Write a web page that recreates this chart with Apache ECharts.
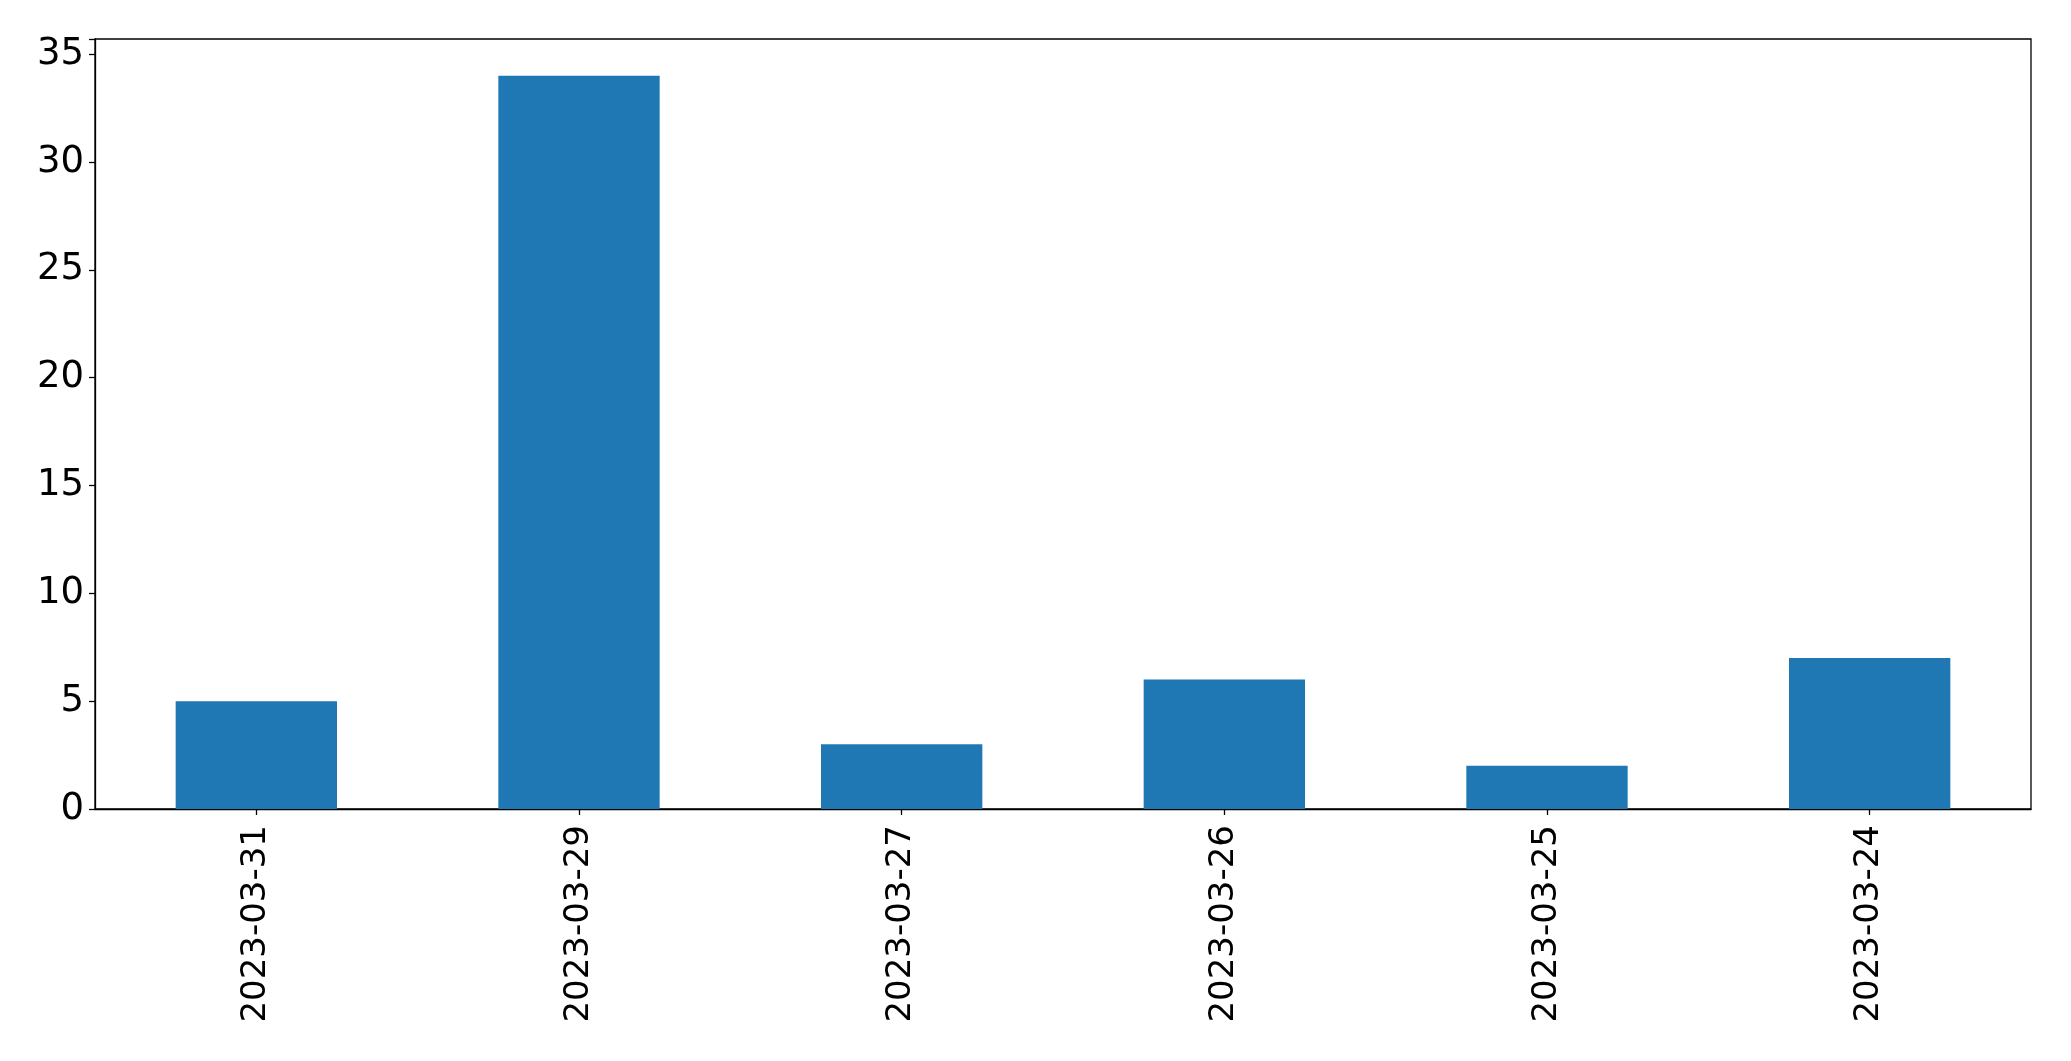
<!DOCTYPE html>
<html>
<head>
<meta charset="utf-8">
<script src="https://cdn.jsdelivr.net/npm/echarts@6/dist/echarts.min.js"></script>
<style>
html,body{margin:0;padding:0;background:#fff;}
#chart{width:2071px;height:1061px;}
</style>
</head>
<body>
<div id="chart"></div>
<script>
const categories = ['2023-03-31','2023-03-29','2023-03-27','2023-03-26','2023-03-25','2023-03-24'];
const values = [5, 34, 3, 6, 2, 7];
const yTicks = [0, 5, 10, 15, 20, 25, 30, 35];

const chart = echarts.init(document.getElementById('chart'), null, {renderer:'canvas'});
const font = 'DejaVu Sans';
chart.setOption({
  animation: false,
  backgroundColor: '#fff',
  grid: {left: 95, top: 39, right: 40, bottom: 252, show: true, borderColor: '#000', borderWidth: 1.3, containLabel: false},
  xAxis: {
    type: 'category',
    data: categories,
    boundaryGap: true,
    axisLine: {show: true, lineStyle: {color: '#000', width: 1.3}},
    axisTick: {show: true, alignWithLabel: true, length: 6, lineStyle: {color: '#000', width: 1.3}},
    axisLabel: {rotate: 90, fontFamily: font, fontSize: 34, color: '#000', margin: 16, interval: 0}
  },
  yAxis: {
    type: 'value',
    min: 0,
    max: 35.7,
    interval: 5,
    splitLine: {show: false},
    axisLine: {show: true, lineStyle: {color: '#000', width: 1.3}},
    axisTick: {show: true, length: 6, lineStyle: {color: '#000', width: 1.3}},
    axisLabel: {
      fontFamily: font, fontSize: 37, color: '#000', margin: 11,
      formatter: function(v){ return yTicks.indexOf(v) >= 0 ? String(v) : ''; }
    }
  },
  series: [{
    type: 'bar',
    data: values,
    barWidth: '50%',
    itemStyle: {color: '#1f77b4'}
  }]
});
</script>
</body>
</html>
